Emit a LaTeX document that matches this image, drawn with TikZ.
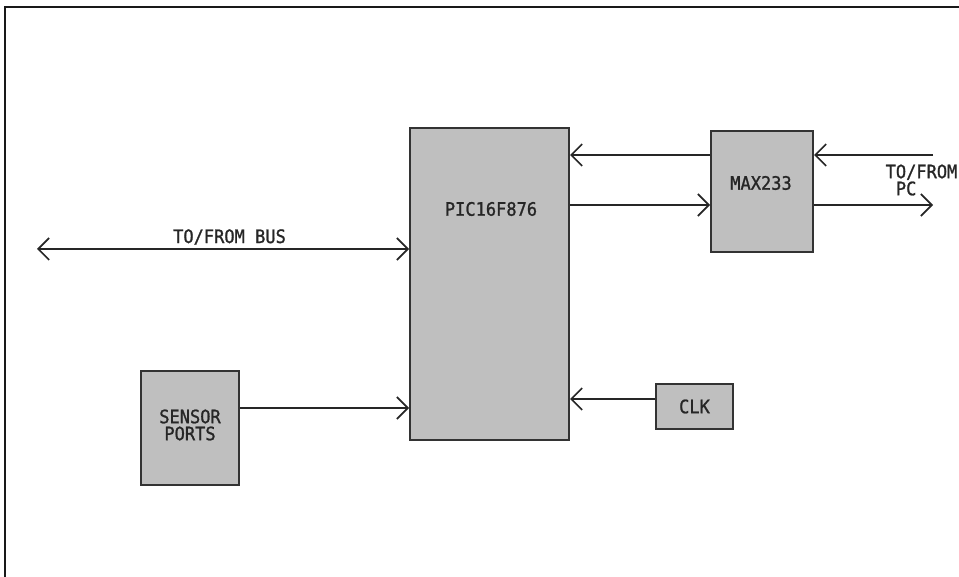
\documentclass[tikz,border=0pt]{standalone}
\usepackage{fontspec}
\newfontfamily\diafont[FakeStretch=0.92, FakeBold=1.2]{DejaVu Sans Mono}
\usetikzlibrary{arrows.meta, positioning}

\begin{document}
\begin{tikzpicture}[
    x=1pt, y=-1pt,
    every node/.style={font=\diafont\fontsize{18.5}{18}\selectfont, text=black!85},
    block/.style={rectangle, draw=black!80, line width=2pt, fill=gray!50, inner sep=0pt,
                  align=center},
    label/.style={inner sep=0pt, align=center},
    arrow/.style={-{Straight Barb[length=11pt, width=22pt, line width=1.6pt]}, line width=1.6pt, draw=black!85},
    both/.style={{Straight Barb[length=11pt, width=22pt, line width=1.6pt]}-{Straight Barb[length=11pt, width=22pt, line width=1.6pt]}, line width=1.6pt, draw=black!85}
]

% Frame and page size
\useasboundingbox (0,0) rectangle (959,577);
\fill[white] (0,0) rectangle (959,577);
\draw[line width=2pt, black!90] (5,577) -- (5,7) -- (959,7);

% Blocks
\node[block, minimum width=159pt, minimum height=312pt] (pic) at (489.5,284) {};
\node[label] (pictxt) at (491,209) {PIC16F876};
\node[block, minimum width=102pt, minimum height=121pt] (max) at (762,191.5) {};
\node[label] (maxtxt) at (761,183) {MAX233};
\node[block, minimum width=98pt, minimum height=114pt] (sensor) at (190,428) {};
\node[label] (sensortxt) at (190,425) {SENSOR\\[-1pt]PORTS};
\node[block, minimum width=77pt, minimum height=45pt] (clk) at (694.5,406.5) {CLK};

% Free ends
\coordinate (busl) at (37,249);
\coordinate (pcin) at (933,155);
\coordinate (pcout) at (933,205);

% Labels
\node[label] (buslabel) at (229.5,237) {TO/FROM BUS};
\node[label, align=left] (pclabel) at (921.5,180) {TO/FROM\\[-1pt]\ PC};

% Arrows
\draw[arrow] ([yshift=36.5pt]max.west) -- ([yshift=36.5pt]max.west -| pic.east);
\draw[arrow] ([yshift=-13.5pt]max.west -| pic.east) -- ([yshift=-13.5pt]max.west);
\draw[arrow] (pcin) -- (pcin -| max.east);
\draw[arrow] (pcout -| max.east) -- (pcout);
\draw[both] (busl) -- (busl -| pic.west);
\draw[arrow] ([yshift=20pt]sensor.east) -- ([yshift=20pt]sensor.east -| pic.west);
\draw[arrow] ([yshift=7.5pt]clk.west) -- ([yshift=7.5pt]clk.west -| pic.east);

\end{tikzpicture}
\end{document}
